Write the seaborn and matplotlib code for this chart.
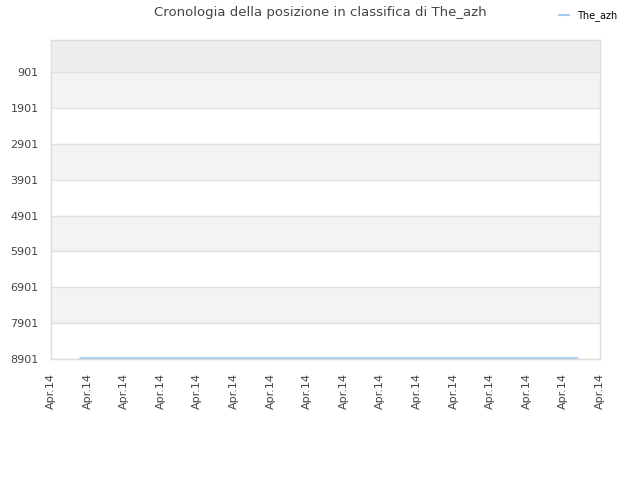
#!/usr/bin/env python3
import matplotlib
matplotlib.use('Agg')
import matplotlib.pyplot as plt
import pandas as pd
import seaborn as sns

PLAYER = 'The_azh'
TITLE = 'Cronologia della posizione in classifica di The_azh'
# x positions along the time axis (all on the same day), y = ranking position
TIME_POS = [0.8, 14.4]
RANKS = [8885, 8885]
TICK_POS = list(range(16))
TICK_LABELS = ['Apr.14'] * 16
Y_TICKS = [901, 1901, 2901, 3901, 4901, 5901, 6901, 7901, 8901]
LINE_COLOR = '#a7c9ee'


def main():
    sns.set_style('white')
    plt.rcParams['font.family'] = ['DejaVu Sans']
    fig = plt.figure(figsize=(6.4, 4.8), dpi=100)
    ax = fig.add_axes([51 / 640, 1 - 359 / 480, 549 / 640, 319 / 480])

    data = pd.DataFrame({'time': TIME_POS, 'rank': RANKS, 'player': PLAYER})

    # alternating background bands
    ax.axhspan(0, Y_TICKS[0], color='#eeeeee', zorder=0, lw=0)
    for i in range(len(Y_TICKS) - 1):
        if i % 2 == 0:
            ax.axhspan(Y_TICKS[i], Y_TICKS[i + 1], color='#f3f3f3', zorder=0, lw=0)
    for y in Y_TICKS:
        ax.axhline(y, color='#e0e0e0', lw=1, zorder=1)

    sns.lineplot(data=data, x='time', y='rank', hue='player', palette=[LINE_COLOR],
                 ax=ax, lw=1.2, zorder=3)

    ax.set_xlim(0, 15)
    ax.set_ylim(8901, 0)
    ax.set_yticks(Y_TICKS)
    ax.set_yticklabels([str(y) for y in Y_TICKS], fontsize=8, color='#444444')
    ax.set_xticks(TICK_POS)
    ax.set_xticklabels(TICK_LABELS, rotation=90, fontsize=8, color='#444444')
    ax.tick_params(axis='y', length=0, pad=9)
    ax.tick_params(axis='x', length=0, pad=10)
    ax.set_xlabel('')
    ax.set_ylabel('')
    for side in ['top', 'right', 'bottom', 'left']:
        ax.spines[side].set_color('#dddddd')
        ax.spines[side].set_linewidth(1)

    fig.suptitle(TITLE, x=0.5, y=0.987, fontsize=9.5, color='#444444')
    leg = ax.legend(loc='upper right', bbox_to_anchor=(1.038, 1.105), frameon=False,
                    fontsize=7, handlelength=1.0, borderaxespad=0)
    for line in leg.get_lines():
        line.set_linewidth(1.5)
    for txt in leg.get_texts():
        txt.set_color('black')

    fig.savefig('out.png', dpi=100)


if __name__ == '__main__':
    main()
